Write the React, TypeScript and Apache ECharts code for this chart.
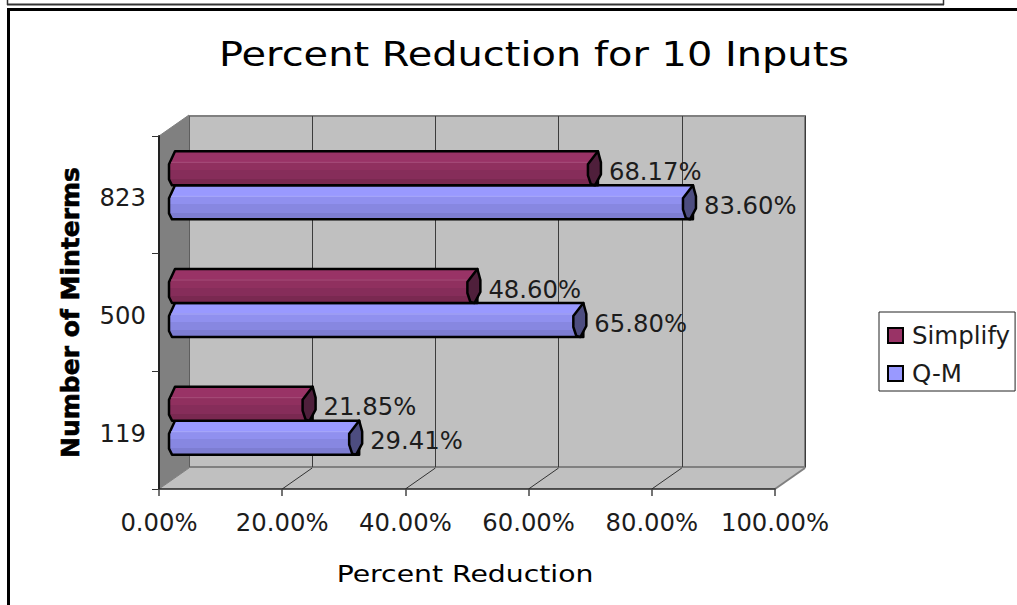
import React, { useEffect, useRef } from "react";
import * as echarts from "echarts";

const chartTitle = "Percent Reduction for 10 Inputs";
const categoryName = "Number of Minterms";
const valueName = "Percent Reduction";
const categories = ["119", "500", "823"];
const simplifyValues = [21.85, 48.6, 68.17];
const qmValues = [29.41, 65.8, 83.6];
const percentTicks = [0, 20, 40, 60, 80, 100];

const FONT = "'DejaVu Sans', Verdana, sans-serif";
const LABEL_SIZE = 24.3;
const DEPTH_X = 30;
const DEPTH_Y = -21;
const BAR_H = 34;

const bands = (stops: [number, string][]) => ({
  type: "linear",
  x: 0,
  y: 0,
  x2: 0,
  y2: 1,
  colorStops: stops.flatMap(([end, color], i) => [
    { offset: i === 0 ? 0 : stops[i - 1][0], color },
    { offset: end, color },
  ]),
});

const simplifyBody = bands([
  [0.3, "#993366"],
  [0.55, "#90305f"],
  [0.8, "#862d5a"],
  [1, "#7a2951"],
]);
const qmBody = bands([
  [0.3, "#9999ff"],
  [0.55, "#9090ef"],
  [0.8, "#8787e1"],
  [1, "#7d7dd2"],
]);

// A lying cylinder, placed halfway into the depth of the plot box.
const cylinderRenderer =
  (side: number, body: any, capColor: string, highlight: string, valueOf: (i: number) => number) =>
  (params: any, api: any) => {
    const value = api.value(0);
    const zero = api.coord([0, api.value(1)]);
    const end = api.coord([value, api.value(1)]);
    const midY = end[1] + DEPTH_Y / 2 + 1;
    const top = side < 0 ? midY - BAR_H : midY;
    const bottom = top + BAR_H;
    const x0 = zero[0] + DEPTH_X / 2;
    const x1 = end[0] + DEPTH_X / 2;
    const outline = { stroke: "#000", lineWidth: 2.5, lineJoin: "round" };
    return {
      type: "group",
      children: [
        {
          type: "polygon",
          shape: {
            points: [
              [x0 + 1, top],
              [x1 + 4, top],
              [x1 + 4, bottom],
              [x0 - 2, bottom],
              [x0 - 5, bottom - 6],
              [x0 - 5, top + 13],
            ],
          },
          style: { fill: body, ...outline },
        },
        {
          type: "line",
          shape: { x1: x0 - 3, y1: top + 11, x2: x1 - 4, y2: top + 11 },
          style: { stroke: highlight, lineWidth: 1, opacity: 0.7 },
        },
        {
          type: "polygon",
          shape: {
            points: [
              [x1 + 4, top],
              [x1 + 7, top + 11],
              [x1 + 7, top + 23],
              [x1 + 1, bottom],
              [x1 - 3, bottom - 1],
              [x1 - 6, top + 24],
              [x1 - 6, top + 13],
            ],
          },
          style: { fill: capColor, ...outline },
        },
        {
          type: "text",
          x: x1 + 15,
          y: midY + (side < 0 ? -17 : 17) + 3,
          style: {
            text: valueOf(params.dataIndex).toFixed(2) + "%",
            fill: "#1c1c1c",
            font: `${LABEL_SIZE}px ${FONT}`,
            align: "left",
            verticalAlign: "middle",
          },
        },
      ],
    };
  };

// Left wall, floor and the floor's depth lines of the plot box.
const boxRenderer = (params: any, api: any) => {
  const { x, y, width, height } = params.coordSys;
  const bottom = y + height;
  const right = x + width;
  const gray = "#808080";
  return {
    type: "group",
    children: [
      {
        type: "polygon",
        shape: {
          points: [
            [x, bottom],
            [x + DEPTH_X, bottom + DEPTH_Y],
            [right + DEPTH_X, bottom + DEPTH_Y],
            [right, bottom],
          ],
        },
        style: { fill: "#c0c0c0" },
      },
      {
        type: "polygon",
        shape: {
          points: [
            [x, y],
            [x + DEPTH_X, y + DEPTH_Y],
            [x + DEPTH_X, bottom + DEPTH_Y],
            [x, bottom],
          ],
        },
        style: { fill: gray, stroke: gray, lineWidth: 1 },
      },
      ...percentTicks.slice(1).map((tick) => {
        const front = api.coord([tick, 0]);
        const isLast = tick === percentTicks[percentTicks.length - 1];
        return {
          type: "line",
          shape: { x1: front[0], y1: bottom, x2: front[0] + DEPTH_X, y2: bottom + DEPTH_Y },
          style: { stroke: isLast ? gray : "#333", lineWidth: isLast ? 2 : 1 },
        };
      }),
    ],
  };
};

export default function App() {
  const ref = useRef<HTMLDivElement>(null);

  useEffect(() => {
    const chart = echarts.init(ref.current!, null, { renderer: "svg" });
    const frameLine = (x1: number, y1: number, x2: number, y2: number, lineWidth: number, stroke = "#000") => ({
      type: "line",
      silent: true,
      shape: { x1, y1, x2, y2 },
      style: { stroke, lineWidth },
    });
    // Headings are stretched sideways to get the wide set of the chart's typeface.
    const wideText = (text: string, x: number, y: number, size: number, scaleX: number) => ({
      type: "text",
      silent: true,
      x,
      y,
      scaleX,
      style: {
        text,
        fill: "#000",
        font: `${size}px ${FONT}`,
        align: "center",
        verticalAlign: "middle",
      },
    });
    chart.setOption({
      animation: false,
      backgroundColor: "#fff",
      graphic: [
        frameLine(7, 4.5, 944, 4.5, 2, "#333"),
        frameLine(7.5, 0, 7.5, 5, 1.5, "#333"),
        frameLine(943.5, 0, 943.5, 5, 1.5, "#333"),
        frameLine(7, 9.5, 1017, 9.5, 3),
        frameLine(8.5, 8, 8.5, 605, 3),
        wideText(chartTitle, 534, 55, 33, 1.21),
        wideText(valueName, 465, 574, 23, 1.23),
      ],
      legend: {
        left: 879,
        top: 312,
        orient: "vertical",
        padding: [11, 5, 5, 8],
        itemGap: 13,
        itemWidth: 15,
        itemHeight: 15,
        borderColor: "#222",
        borderWidth: 1,
        backgroundColor: "#fff",
        textStyle: { fontFamily: FONT, fontSize: 24.5, color: "#1c1c1c", padding: [0, 0, 0, 4] },
        data: [
          { name: "Simplify", icon: "rect", itemStyle: { color: "#993366", borderColor: "#000", borderWidth: 2 } },
          { name: "Q-M", icon: "rect", itemStyle: { color: "#9999ff", borderColor: "#000", borderWidth: 2 } },
        ],
      },
      grid: [
        { left: 159, top: 136, width: 616, height: 353, containLabel: false },
        {
          left: 189,
          top: 116,
          width: 616,
          height: 351,
          show: true,
          backgroundColor: "#c0c0c0",
          borderColor: "#808080",
          borderWidth: 2,
        },
      ],
      xAxis: [
        {
          type: "value",
          gridIndex: 0,
          min: 0,
          max: 100,
          interval: 20,
          z: 3,
          axisLine: { show: true, lineStyle: { color: "#222", width: 1.5 } },
          axisTick: { show: true, length: 7, lineStyle: { color: "#444", width: 1.5 } },
          axisLabel: {
            margin: 21,
            fontFamily: FONT,
            fontSize: LABEL_SIZE,
            color: "#1c1c1c",
            formatter: (v: number) => v.toFixed(2) + "%",
          },
          splitLine: { show: false },
        },
        {
          type: "value",
          gridIndex: 1,
          min: 0,
          max: 100,
          interval: 20,
          axisLine: { show: false },
          axisTick: { show: false },
          axisLabel: { show: false },
          splitLine: { show: true, lineStyle: { color: "#3c3c3c", width: 1 } },
        },
      ],
      yAxis: [
        {
          type: "category",
          gridIndex: 0,
          data: categories,
          z: 3,
          name: categoryName,
          nameLocation: "middle",
          nameGap: 76,
          nameRotate: 90,
          nameTextStyle: {
            fontFamily: FONT,
            fontSize: 25,
            fontWeight: "bold",
            color: "#000",
            textBorderColor: "#000",
            textBorderWidth: 0.6,
          },
          axisLine: { show: true, lineStyle: { color: "#222", width: 2 } },
          axisTick: { show: true, length: 7, alignWithLabel: false, lineStyle: { color: "#333", width: 1 } },
          axisLabel: {
            margin: 13,
            fontFamily: FONT,
            fontSize: LABEL_SIZE,
            color: "#1c1c1c",
            verticalAlign: "top",
            lineHeight: 6,
          },
        },
        {
          type: "value",
          gridIndex: 1,
          show: false,
          splitLine: { show: false },
        },
      ],
      series: [
        {
          name: "box",
          type: "custom",
          xAxisIndex: 0,
          yAxisIndex: 0,
          z: 1,
          silent: true,
          clip: false,
          encode: { x: 0, y: 1 },
          data: [[0, 0]],
          renderItem: boxRenderer,
        },
        {
          name: "Q-M",
          type: "custom",
          xAxisIndex: 0,
          yAxisIndex: 0,
          z: 2,
          clip: false,
          encode: { x: 0, y: 1 },
          itemStyle: { color: "#9999ff" },
          data: qmValues.map((v, i) => [v, i]),
          renderItem: cylinderRenderer(1, qmBody, "#4d4d80", "#b4b4ff", (i) => qmValues[i]),
        },
        {
          name: "Simplify",
          type: "custom",
          xAxisIndex: 0,
          yAxisIndex: 0,
          z: 3,
          clip: false,
          encode: { x: 0, y: 1 },
          itemStyle: { color: "#993366" },
          data: simplifyValues.map((v, i) => [v, i]),
          renderItem: cylinderRenderer(-1, simplifyBody, "#4f1f3b", "#b05a86", (i) => simplifyValues[i]),
        },
      ],
    });
    return () => chart.dispose();
  }, []);

  return <div ref={ref} style={{ position: "fixed", left: 0, top: 0, width: 1017, height: 605 }} />;
}
